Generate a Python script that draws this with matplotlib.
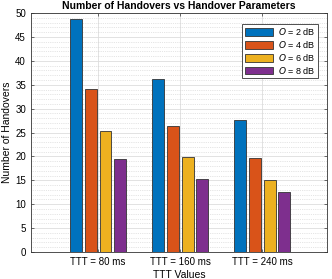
import numpy as np
import matplotlib
matplotlib.use("Agg")
import matplotlib.pyplot as plt
from matplotlib.ticker import MultipleLocator

plt.rcParams['font.family'] = ['Liberation Sans', 'DejaVu Sans']

groups = ['TTT = 80 ms', 'TTT = 160 ms', 'TTT = 240 ms']
series = ['$O$ = 2 dB', '$O$ = 4 dB', '$O$ = 6 dB', '$O$ = 8 dB']
o2 = [48.8, 36.2, 27.6]
o4 = [34.1, 26.4, 19.6]
o6 = [25.3, 19.8, 15.1]
o8 = [19.5, 15.2, 12.5]
colors = ['#0072BD', '#D95319', '#EDB120', '#7E2F8E']

fig = plt.figure(figsize=(3.32, 2.79), dpi=100)
ax = fig.add_axes([0.093, 0.097, 0.892, 0.856])

x = np.arange(1, len(groups) + 1)
step = 0.18
width = 0.145
for i, (vals, lab) in enumerate(zip([o2, o4, o6, o8], series)):
    ax.bar(x + (i - 1.5) * step, vals, width, color=colors[i], label=lab,
           edgecolor='#333333', linewidth=0.6, zorder=3)

ax.set_xlim(0.18, 3.79)
ax.set_ylim(0, 50)
ax.set_xticks(x)
ax.set_xticklabels(groups)
ax.yaxis.set_major_locator(MultipleLocator(5))
ax.yaxis.set_minor_locator(MultipleLocator(1))
ax.grid(which='major', color='#dddddd', linewidth=0.6, zorder=0)
ax.grid(which='minor', axis='y', color='#cccccc', linestyle=':', linewidth=0.5, zorder=0)
ax.tick_params(which='both', direction='in', top=True, right=True, labelsize=7, length=2.5, width=0.5, color='#333333')
ax.tick_params(which='minor', length=0)
for s in ax.spines.values():
    s.set_linewidth(0.6)
    s.set_color('#333333')

ax.set_xlabel('TTT Values', fontsize=7.5, labelpad=2)
ax.set_ylabel('Number of Handovers', fontsize=7.5, labelpad=2)
ax.set_title('Number of Handovers vs Handover Parameters', fontsize=7.5, fontweight='bold', pad=3)

leg = ax.legend(loc='upper right', fontsize=6.5, fancybox=False, framealpha=1,
                edgecolor='#333333', borderpad=0.3, labelspacing=0.2,
                handlelength=3.2, handleheight=0.9, handletextpad=0.5,
                bbox_to_anchor=(0.985, 0.975))
leg.get_frame().set_linewidth(0.6)

fig.savefig('out.png', dpi=100)
